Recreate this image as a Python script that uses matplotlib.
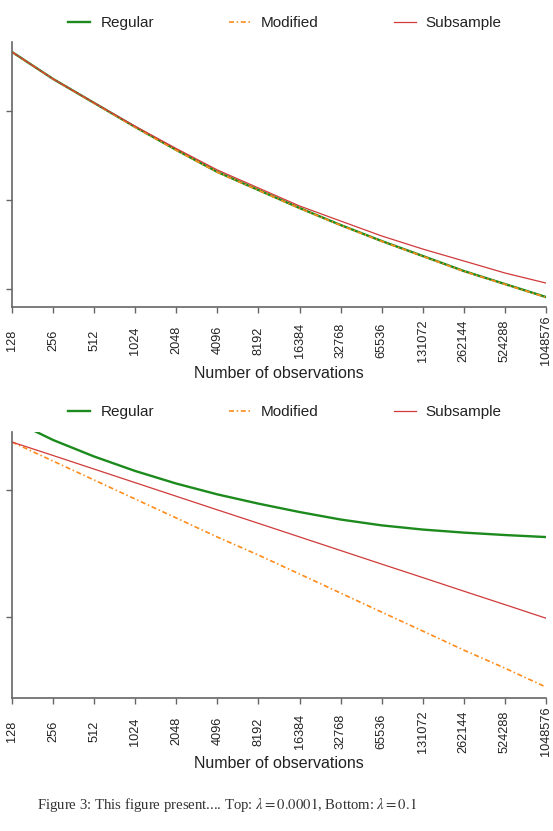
import numpy as np
import matplotlib.pyplot as plt
from matplotlib.lines import Line2D

plt.rcParams['font.family'] = ['Liberation Sans', 'DejaVu Sans']
plt.rcParams['mathtext.fontset'] = 'stix'

# number of observations (log2 spaced)
n_obs = [128, 256, 512, 1024, 2048, 4096, 8192, 16384, 32768, 65536,
         131072, 262144, 524288, 1048576]

# top panel, lambda = 0.0001 (log10 error)
top_regular = [-1.337, -1.640, -1.910, -2.180, -2.438, -2.685, -2.888,
               -3.090, -3.281, -3.461, -3.629, -3.798, -3.944, -4.090]
top_modified = [-1.337, -1.641, -1.912, -2.183, -2.441, -2.688, -2.891,
                -3.093, -3.284, -3.464, -3.632, -3.801, -3.947, -4.093]
top_subsample = [-1.337, -1.640, -1.908, -2.172, -2.422, -2.663, -2.865,
                 -3.067, -3.236, -3.404, -3.551, -3.685, -3.820, -3.933]

# bottom panel, lambda = 0.1
bot_regular = [-0.449, -0.606, -0.736, -0.850, -0.949, -1.034, -1.107,
               -1.173, -1.232, -1.278, -1.311, -1.335, -1.354, -1.370]
bot_modified = [-0.622, -0.772, -0.921, -1.071, -1.220, -1.370, -1.512,
                -1.661, -1.811, -1.961, -2.110, -2.260, -2.402, -2.551]
bot_subsample = [-0.622, -0.728, -0.835, -0.942, -1.049, -1.156, -1.262,
                 -1.369, -1.476, -1.583, -1.689, -1.796, -1.902, -2.009]

series_names = ['Regular', 'Modified', 'Subsample']
colors = ['#1c8a1c', '#ff8c1a', '#d03a3a']
styles = ['-', (0, (3.0, 1.6, 0.9, 1.6)), '-']
widths = [1.7, 1.2, 0.9]

W, H = 553, 831
fig = plt.figure(figsize=(W / 100, H / 100), dpi=100)


def px_axes(left, top, right, bottom):
    return fig.add_axes([left / W, 1 - bottom / H, (right - left) / W, (bottom - top) / H])


def style_axes(ax, yticks, ylim, label_y):
    x = np.log2(n_obs)
    ax.set_xlim(x[0], x[-1])
    ax.set_ylim(*ylim)
    ax.set_xticks(x)
    ax.set_xticklabels([str(v) for v in n_obs], rotation=90, fontsize=9.2,
                       va='center', color='#222222')
    ax.set_yticks(yticks)
    ax.tick_params(axis='y', labelleft=False, length=4, width=1.0, color='#666666')
    ax.tick_params(axis='x', length=4, width=1.0, color='#666666', pad=20)
    for s in ['top', 'right']:
        ax.spines[s].set_visible(False)
    for s in ['left', 'bottom']:
        ax.spines[s].set_color('#666666')
        ax.spines[s].set_linewidth(1.2)
    ax.set_xlabel('Number of observations', fontsize=11.5, color='#222222')
    ax.xaxis.label.set_va('center')
    ax.xaxis.set_label_coords(279 / W, 1 - label_y / H, transform=fig.transFigure)


def draw_panel(ax, data):
    x = np.log2(n_obs)
    for vals, c, ls, lw in zip(data, colors, styles, widths):
        ax.plot(x, vals, color=c, linestyle=ls, linewidth=lw)


ax1 = px_axes(12, 42, 546, 307)
draw_panel(ax1, [top_regular, top_modified, top_subsample])
style_axes(ax1, [-2, -3, -4], (-4.202, -1.225), 373)

ax2 = px_axes(12, 432, 546, 698)
draw_panel(ax2, [bot_regular, bot_modified, bot_subsample])
style_axes(ax2, [-1, -2], (-2.637, -0.543), 763)

handles = [Line2D([], [], color=c, linestyle=ls, linewidth=lw)
           for c, ls, lw in zip(colors, styles, widths)]
for y in [23, 412]:
    fig.legend(handles, series_names, loc='center', bbox_to_anchor=(285 / W, 1 - y / H),
               ncol=3, frameon=False, fontsize=11, handlelength=1.45,
               handletextpad=0.65, columnspacing=4.9, labelcolor='#222222')

fig.text(37 / W, 1 - 805 / H,
         r'Figure 3: This figure present.... Top: $\lambda = 0.0001$, Bottom: $\lambda = 0.1$',
         family='Liberation Serif', fontsize=10.6, color='#333333', va='center', ha='left')

fig.savefig('out.png', dpi=100)
